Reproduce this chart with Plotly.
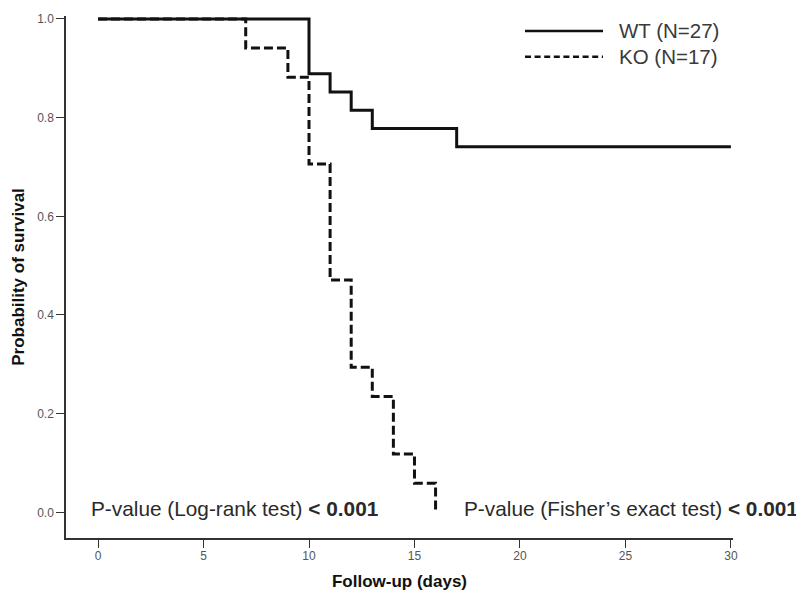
import plotly.graph_objects as go

# Data
wt_days = [0, 10, 11, 12, 13, 17, 30]
wt_surv = [1.0, 0.889, 0.852, 0.815, 0.778, 0.741, 0.741]
ko_days = [0, 7, 9, 10, 11, 12, 13, 14, 15, 16]
ko_surv = [1.0, 0.941, 0.882, 0.706, 0.471, 0.294, 0.235, 0.118, 0.059, 0.0]
series_names = ["WT (N=27)", "KO (N=17)"]
x_ticks = [0, 5, 10, 15, 20, 25, 30]
y_ticks = [0.0, 0.2, 0.4, 0.6, 0.8, 1.0]
y_tick_labels = ["0.0", "0.2", "0.4", "0.6", "0.8", "1.0"]
p_logrank = "P-value (Log-rank test) <b>&lt; 0.001</b>"
p_fisher = "P-value (Fisher\u2019s exact test) <b>&lt; 0.001</b>"

FONT = "Liberation Sans, Arial, sans-serif"
DASH = "9px,4px"
LEG_DASH = "6px,3.6px"

fig = go.Figure()
fig.add_trace(go.Scatter(x=wt_days, y=wt_surv, mode="lines", line_shape="hv",
                         name=series_names[0],
                         line=dict(color="#111111", width=3)))
fig.add_trace(go.Scatter(x=ko_days, y=ko_surv, mode="lines", line_shape="hv",
                         name=series_names[1],
                         line=dict(color="#111111", width=3, dash=DASH)))

# page has an 8px body margin; figure is sized to fit the window
OFF = 8
W, H = 804 - OFF, 597 - OFF
L, T = 66 - OFF, 12 - OFF
pw, ph = 667, 526
R, B = W - L - pw, H - T - ph

def px2x(px):
    return (px - OFF - L) / pw

def py2y(py):
    return (H - B - (py - OFF)) / ph

# custom legend (page-pixel positions)
for name, dash, py in [(series_names[0], "solid", 27), (series_names[1], LEG_DASH, 53)]:
    fig.add_shape(type="line", xref="paper", yref="paper",
                  x0=px2x(525), x1=px2x(603), y0=py2y(py), y1=py2y(py),
                  line=dict(color="#111111", width=2.5, dash=dash))
    fig.add_annotation(xref="paper", yref="paper", x=px2x(617), y=py2y(py),
                       xanchor="left", yanchor="middle", text=name, showarrow=False,
                       font=dict(family=FONT, size=20.5, color="#3a3a3a"))

fig.add_annotation(xref="paper", yref="paper", x=px2x(89), y=py2y(508),
                   xanchor="left", yanchor="middle", text=p_logrank, showarrow=False,
                   font=dict(family=FONT, size=20.8, color="#2a2a2a"))
fig.add_annotation(xref="paper", yref="paper", x=px2x(462), y=py2y(508),
                   xanchor="left", yanchor="middle", text=p_fisher, showarrow=False,
                   font=dict(family=FONT, size=20.8, color="#2a2a2a"))

fig.update_layout(
    width=W, height=H,
    margin=dict(l=L, r=R, t=T, b=B),
    paper_bgcolor="white", plot_bgcolor="white",
    showlegend=False,
    font=dict(family=FONT, color="#444444"),
)
fig.update_xaxes(range=[-1.52, 30.1], tickvals=x_ticks, ticks="outside", ticklen=8,
                 tickcolor="#333333", tickwidth=1.2, showline=True, linecolor="#333333",
                 linewidth=1.5, showgrid=False, zeroline=False, ticklabelstandoff=-2,
                 tickfont=dict(family=FONT, size=12, color="#555555"),
                 title=dict(text="<b>Follow-up (days)</b>", standoff=13,
                            font=dict(family=FONT, size=17, color="#111111")))
fig.update_yaxes(range=[-0.052, 1.006], tickvals=y_ticks, ticktext=y_tick_labels,
                 ticks="outside", ticklen=8, tickcolor="#333333", tickwidth=1.2,
                 showline=True, linecolor="#333333", linewidth=1.5,
                 showgrid=False, zeroline=False,
                 tickfont=dict(family=FONT, size=12, color="#555555"),
                 title=dict(text="<b>Probability of survival</b>", standoff=8,
                            font=dict(family=FONT, size=17, color="#111111")))

fig.write_html("out.html")
